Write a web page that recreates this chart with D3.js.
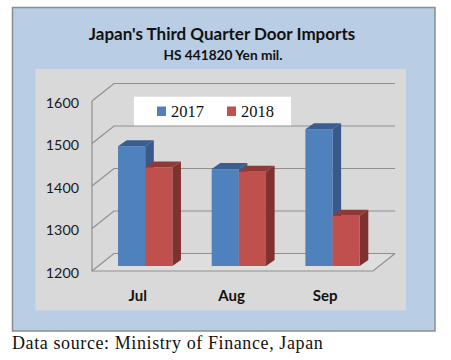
<!DOCTYPE html>
<html><head><meta charset="utf-8">
<script src="https://cdn.jsdelivr.net/npm/d3@7"></script>
<style>html,body{margin:0;padding:0;background:#fff}svg{display:block}</style>
</head><body><svg id="c" width="451" height="360"></svg>
<script>
const categories = ["Jul","Aug","Sep"];
const seriesNames = ["2017","2018"];
const values2017 = [1482,1428,1522];
const values2018 = [1432,1422,1318];
const yTicks = [1200,1300,1400,1500,1600];
const titleText = "Japan's Third Quarter Door Imports";
const subtitleText = "HS 441820 Yen mil.";
const sourceText = "Data source: Ministry of Finance, Japan";

const svg = d3.select("#c");
const sans = "Lato, 'Open Sans', sans-serif";
const serif = "'Liberation Serif', serif";
const front = {l:92,r:373,b:271,t:101};
const depth = {x:22,y:-17.5};
const barOff = {x:7.3,y:-5};
const barD = {x:8.6,y:-6};

const y = d3.scaleLinear().domain([1200,1600]).range([front.b,front.t]);
const x0 = d3.scaleBand().domain(categories).range([front.l,front.r]).paddingInner(0).paddingOuter(0);
const x1 = d3.scaleBand().domain(seriesNames).range([x0.bandwidth()*0.2,x0.bandwidth()*0.78]);

svg.append("rect").attr("x",12.5).attr("y",7.5).attr("width",422.5).attr("height",323.5)
  .attr("fill","#b9cde5").attr("stroke","#8a8d8f").attr("stroke-width",1.5);
svg.append("rect").attr("x",35.5).attr("y",69).attr("width",370.5).attr("height",241.5).attr("fill","#d9d9d9");

// floor
svg.append("path").attr("fill","#dedede").attr("stroke","none")
  .attr("d",`M${front.l},${front.b}L${front.l+depth.x},${front.b+depth.y}L${front.r+depth.x},${front.b+depth.y}L${front.r},${front.b}Z`);

const grid = "#8f8f8f";
const g = svg.append("g").attr("fill","none").attr("stroke",grid).attr("stroke-width",1.2);
g.selectAll(".b").data(yTicks).join("path")
  .attr("d",v=>`M${front.l},${y(v)}L${front.l+depth.x},${y(v)+depth.y}L${front.r+depth.x},${y(v)+depth.y}`);
g.append("path").attr("d",`M${front.l},${y(1600)}V${y(1200)}H${front.r}L${front.r+depth.x},${y(1200)+depth.y}`);

svg.append("g").selectAll("text").data(yTicks).join("text")
  .attr("x",79).attr("y",v=>y(v)+6.5).attr("text-anchor","end")
  .attr("font-family",sans).attr("font-size",14.3).attr("fill","#1a1a1a").text(d=>d);

// legend box sits behind bars
svg.append("rect").attr("x",134).attr("y",96.7).attr("width",157).attr("height",28.6).attr("fill","#fff");
const legendX = [157,227];
const colors = {"2017":["#4f81bd","#3a5f8f","#38598a"],"2018":["#c0504d","#8e3a38","#7f312f"]};
seriesNames.forEach((s,i)=>{
  svg.append("rect").attr("x",legendX[i]).attr("y",106.5).attr("width",9).attr("height",9.5).attr("fill",colors[s][0]);
  svg.append("text").attr("x",legendX[i]+14).attr("y",116.7).attr("font-family",serif).attr("font-size",16.5).attr("fill","#111").text(s);
});

// bars
const rows = categories.map((c,i)=>({c,vals:[["2017",values2017[i]],["2018",values2018[i]]]}));
rows.forEach(r=>{
  r.vals.forEach(([s,v])=>{
    const xl = x0(r.c)+x1(s)+barOff.x, w = x1.bandwidth();
    const yt = y(v)+barOff.y, yb = y(1200)+barOff.y;
    const [cF,cT,cS] = colors[s];
    svg.append("path").attr("fill",cS).attr("d",`M${xl+w},${yt}l${barD.x},${barD.y}V${yb+barD.y}L${xl+w},${yb}Z`);
    svg.append("path").attr("fill",cT).attr("d",`M${xl},${yt}l${barD.x},${barD.y}h${w}l${-barD.x},${-barD.y}Z`);
    svg.append("rect").attr("x",xl).attr("y",yt).attr("width",w).attr("height",yb-yt).attr("fill",cF);
  });
});

// category labels
svg.append("g").selectAll("text").data(categories).join("text")
  .attr("x",d=>x0(d)+x0.bandwidth()/2-1).attr("y",301).attr("text-anchor","middle")
  .attr("font-family",sans).attr("font-weight",700).attr("font-size",15).attr("fill","#111").text(d=>d);

svg.append("text").attr("x",222).attr("y",40).attr("text-anchor","middle")
  .attr("font-family",sans).attr("font-weight",700).attr("font-size",17).attr("fill","#111").text(titleText);
svg.append("text").attr("x",223).attr("y",59.5).attr("text-anchor","middle")
  .attr("font-family",sans).attr("font-weight",700).attr("font-size",13.7).attr("fill","#111").text(subtitleText);
svg.append("text").attr("x",12).attr("y",348.5).attr("font-family",serif).attr("font-size",18).attr("letter-spacing",0.6).attr("fill","#111").text(sourceText);
</script></body></html>
